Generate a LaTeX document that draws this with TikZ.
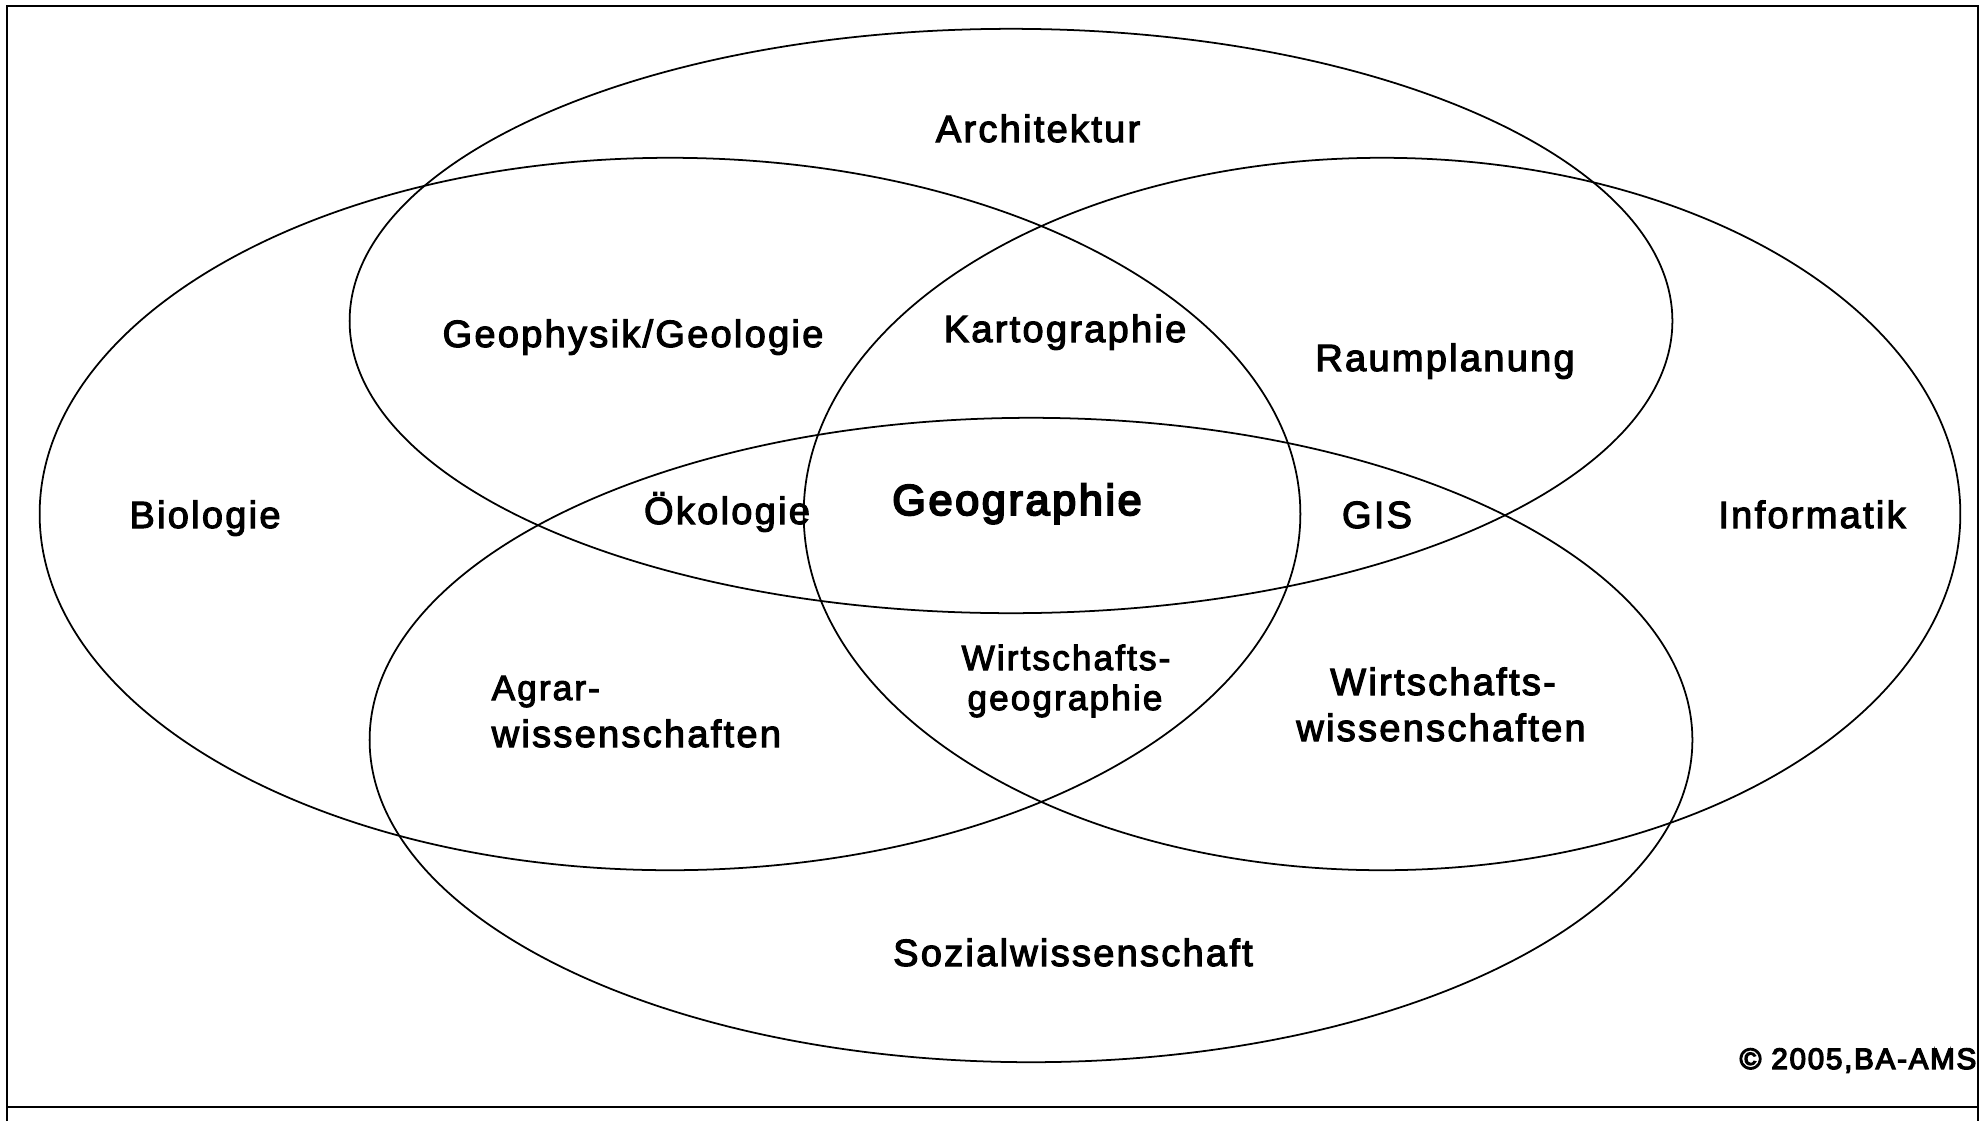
\documentclass[tikz,border=0pt]{standalone}
\usepackage{fontspec}
\setmainfont{Liberation Sans}[LetterSpace=6, FakeBold=3]
\newfontfamily\heavyfont{Liberation Sans}[LetterSpace=6, FakeBold=4.5]
\tikzset{
  venn/.style={draw=black, line width=0.5pt},
  frameline/.style={draw=black, line width=0.75pt},
  lbl/.style={font=\fontsize{10.8}{13}\selectfont, anchor=base, inner sep=0pt},
  biglbl/.style={font=\heavyfont\fontsize{12.3}{15}\selectfont, anchor=base, inner sep=0pt},
  smalllbl/.style={font=\fontsize{10}{12}\selectfont, anchor=base, inner sep=0pt},
}
\begin{document}
\begin{tikzpicture}[x=0.01cm, y=-0.01cm]
\useasboundingbox (0,0) rectangle (1985,1121);
% frame
\draw[frameline] (7,1121) -- (7,6) -- (1978,6) -- (1978,1121);
\draw[frameline] (7,1107) -- (1978,1107);
% ellipses
\draw[venn] (1011,321) ellipse [x radius=6.61cm, y radius=2.92cm];
\draw[venn] (670,514) ellipse [x radius=6.30cm, y radius=3.56cm];
\draw[venn] (1382,514) ellipse [x radius=5.78cm, y radius=3.56cm];
\draw[venn] (1031,740) ellipse [x radius=6.61cm, y radius=3.22cm];
% labels
\node[lbl] (arch) at (1038,142) {Architektur};
\node[lbl] (geoph) at (633,347) {Geophysik/Geologie};
\node[lbl] (karto) at (1065,342) {Kartographie};
\node[lbl] (raum) at (1445,371) {Raumplanung};
\node[lbl] (bio) at (205,528) {Biologie};
\node[lbl] (oeko) at (727,524) {Ökologie};
\node[biglbl] (geog) at (1017,515) {Geographie};
\node[lbl] (gis) at (1377,528) {GIS};
\node[lbl] (info) at (1812,528) {Informatik};
\node[smalllbl, anchor=base west] (agrar1) at (491,700) {Agrar-};
\node[lbl, anchor=base west] (agrar2) at (491,747) {wissenschaften};
\node[smalllbl] (wg1) at (1066,670) {Wirtschafts-};
\node[smalllbl] (wg2) at (1065,710) {geographie};
\node[lbl] (ww1) at (1443,695) {Wirtschafts-};
\node[lbl] (ww2) at (1441,741) {wissenschaften};
\node[lbl] (sozial) at (1073,966) {Sozialwissenschaft};
\node[font=\heavyfont\fontsize{8.4}{10}\selectfont, anchor=base east, inner sep=0pt] (copy) at (1977,1069) {© 2005,BA-AMS};
\end{tikzpicture}
\end{document}
